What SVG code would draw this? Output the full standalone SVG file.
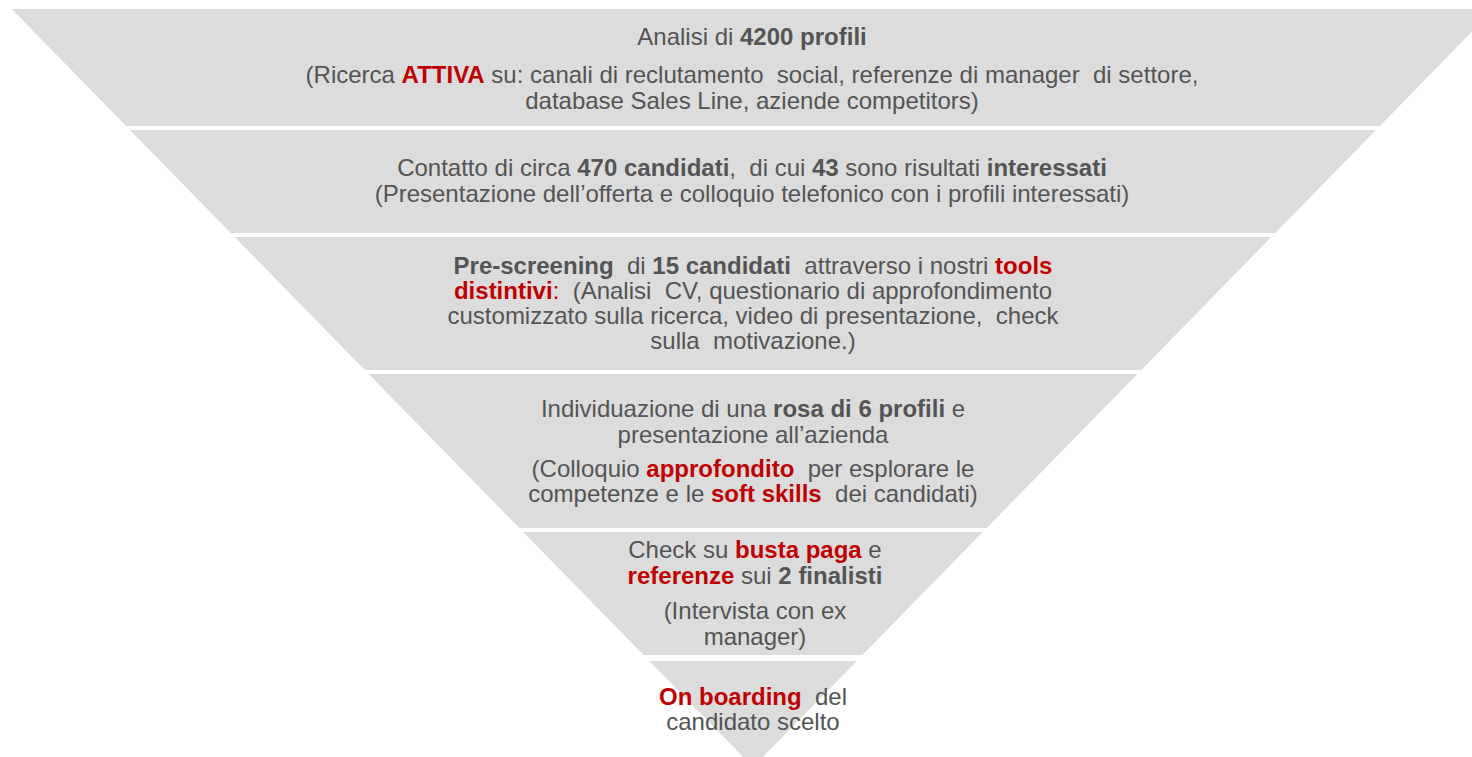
<svg xmlns="http://www.w3.org/2000/svg" width="1472" height="757" viewBox="0 0 1472 757">
<style>
.band{fill:#DCDCDC;}
text{font-family:"Liberation Sans",Arial,sans-serif;font-size:24px;fill:#545454;text-anchor:middle;white-space:pre;}
.b{font-weight:bold;}
.r{font-weight:bold;fill:#C00000;}
</style>
<rect width="1472" height="757" fill="#FFFFFF"/>
<g id="band1">
<polygon class="band" points="11.7,9 1494,9 1379.9,126 126.1,126"/>
<text x="752" y="45">Analisi di <tspan class="b">4200 profili</tspan></text>
<text x="752" y="83" xml:space="preserve">(Ricerca <tspan class="r">ATTIVA</tspan> su: canali di reclutamento  social, referenze di manager  di settore,</text>
<text x="752" y="109">database Sales Line, aziende competitors)</text>
</g>
<g id="band2">
<polygon class="band" points="130,130 1376,130 1275.3,233 230.7,233"/>
<text x="752" y="176" xml:space="preserve">Contatto di circa <tspan class="b">470 candidati</tspan>,  di cui <tspan class="b">43</tspan> sono risultati <tspan class="b">interessati</tspan></text>
<text x="752" y="202">(Presentazione dell’offerta e colloquio telefonico con i profili interessati)</text>
</g>
<g id="band3">
<polygon class="band" points="234.7,237 1271.3,237 1141.3,370 364.7,370"/>
<text x="753" y="274" xml:space="preserve"><tspan class="b">Pre-screening</tspan>  di <tspan class="b">15 candidati</tspan>  attraverso i nostri <tspan class="r">tools</tspan></text>
<text x="753" y="299" xml:space="preserve"><tspan class="r">distintivi</tspan><tspan fill="#C00000">:</tspan>  (Analisi  CV, questionario di approfondimento</text>
<text x="753" y="324" xml:space="preserve">customizzato sulla ricerca, video di presentazione,  check</text>
<text x="753" y="349" xml:space="preserve">sulla  motivazione.)</text>
</g>
<g id="band4">
<polygon class="band" points="368.6,374 1137.4,374 986.7,528 519.3,528"/>
<text x="753" y="417">Individuazione di una <tspan class="b">rosa di 6 profili</tspan> e</text>
<text x="753" y="443">presentazione all’azienda</text>
<text x="753" y="477" xml:space="preserve">(Colloquio <tspan class="r">approfondito</tspan>  per esplorare le</text>
<text x="753" y="502" xml:space="preserve">competenze e le <tspan class="r">soft skills</tspan>  dei candidati)</text>
</g>
<g id="band5">
<polygon class="band" points="523.2,532 982.8,532 862.5,655 643.5,655"/>
<text x="755" y="558">Check su <tspan class="r">busta paga</tspan> e</text>
<text x="755" y="584"><tspan class="r">referenze</tspan> sui <tspan class="b">2 finalisti</tspan></text>
<text x="755" y="619">(Intervista con ex</text>
<text x="755" y="645">manager)</text>
</g>
<g id="band6">
<polygon class="band" points="649.3,661 856.7,661 753,767"/>
<text x="753" y="705" xml:space="preserve"><tspan class="r">On boarding</tspan>  del</text>
<text x="753" y="730">candidato scelto</text>
</g>
<g id="connectors"></g>
</svg>
